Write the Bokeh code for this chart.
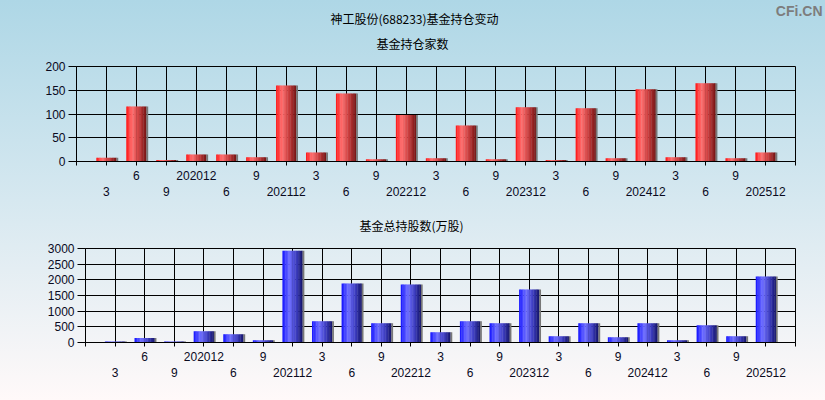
from bokeh.plotting import figure
from bokeh.models import Range1d, FixedTicker, LinearAxis, ColumnDataSource, Title
from bokeh.embed import file_html
from bokeh.resources import INLINE

# ---------------- data ----------------
periods = ["2020-03", "2020-06", "2020-09", "2020-12", "2021-06", "2021-09", "2021-12",
           "2022-03", "2022-06", "2022-09", "2022-12", "2023-03", "2023-06", "2023-09",
           "2023-12", "2024-03", "2024-06", "2024-09", "2024-12", "2025-03", "2025-06",
           "2025-09", "2025-12"]
tick_labels = ["3", "6", "9", "202012", "6", "9", "202112", "3", "6", "9", "202212",
               "3", "6", "9", "202312", "3", "6", "9", "202412", "3", "6", "9", "202512"]
fund_counts = [8, 116, 3, 15, 15, 9, 160, 19, 143, 5, 98, 7, 76, 5, 114, 3, 112, 7,
               152, 9, 165, 7, 19]
fund_shares = [30, 140, 35, 358, 263, 73, 2927, 675, 1880, 612, 1849, 327, 675, 612,
               1690, 200, 612, 168, 612, 73, 549, 200, 2103]
count_ticks = [0, 50, 100, 150, 200]
share_ticks = [0, 500, 1000, 1500, 2000, 2500, 3000]

main_title = "神工股份(688233)基金持仓变动"
title1 = "基金持仓家数"
title2 = "基金总持股数(万股)"
watermark = "CFi.CN"

CJK = "Noto Sans CJK SC"
NUM = "Liberation Sans"
W = 825


def lerp_color(stops, t):
    for (t0, c0), (t1, c1) in zip(stops[:-1], stops[1:]):
        if t0 <= t <= t1:
            f = (t - t0) / (t1 - t0)
            return "#%02x%02x%02x" % tuple(int(round(a + (b - a) * f)) for a, b in zip(c0, c1))
    return "#%02x%02x%02x" % stops[-1][1]


RED = [(0.0, (255, 20, 20)), (0.3, (255, 112, 112)), (0.65, (200, 60, 60)), (1.0, (115, 20, 20))]
BLUE = [(0.0, (20, 20, 255)), (0.35, (112, 112, 255)), (0.7, (60, 60, 190)), (1.0, (20, 20, 105))]


def make_chart(values, yticks, height, mb_left, mb_top, mb_bottom, stops, bar_w, bg):
    n = len(values)
    xs = list(range(1, n + 1))
    p = figure(width=W, height=height, output_backend="svg", toolbar_location=None,
               x_range=Range1d(0, n + 1), y_range=Range1d(yticks[0], yticks[-1]),
               min_border_left=mb_left, min_border_right=30,
               min_border_top=mb_top, min_border_bottom=mb_bottom,
               background_fill_alpha=0, border_fill_alpha=0,
               styles={"background": bg})
    p.outline_line_color = "black"
    p.outline_line_width = 1

    # gradient bars, sliced into vertical strips
    N = 14
    sx, sw, st, sc = [], [], [], []
    for x, v in zip(xs, values):
        for k in range(N):
            t = (k + 0.5) / N
            sx.append(x - bar_w / 2 + t * bar_w)
            sw.append(bar_w / N * 1.25)
            st.append(v)
            sc.append(lerp_color(stops, t))
    src = ColumnDataSource(dict(x=sx, w=sw, top=st, c=sc))
    p.vbar(x="x", width="w", top="top", bottom=0, source=src,
           fill_color="c", line_color=None)
    sh = ColumnDataSource(dict(x=[x + bar_w / 2 + 0.03 for x in xs], top=values))
    p.vbar(x="x", width=0.06, top="top", bottom=0, source=sh,
           fill_color="#777777", line_color=None)

    # grid
    for g in (p.xgrid, p.ygrid):
        g.grid_line_color = "black"
        g.grid_line_width = 1
        g.level = "underlay"

    # y axis
    ya = p.yaxis[0]
    ya.ticker = FixedTicker(ticks=yticks)
    ya.major_tick_in = 0
    ya.major_tick_out = 8
    ya.minor_tick_line_color = None
    ya.axis_line_color = "black"
    ya.major_tick_line_color = "black"
    ya.major_label_standoff = 3
    ya.major_label_text_font = NUM
    ya.major_label_text_font_size = "12px"
    ya.major_label_text_color = "#0a0a1e"

    # x axis row 1 (ticks at every slot, labels at even positions)
    xa = p.xaxis[0]
    xa.ticker = FixedTicker(ticks=list(range(0, n + 2)))
    xa.major_label_overrides = {i: (tick_labels[i - 1] if (1 <= i <= n and i % 2 == 0) else "")
                                for i in range(0, n + 2)}
    xa.major_tick_in = 0
    xa.major_tick_out = 4
    xa.minor_tick_line_color = None
    xa.axis_line_color = "black"
    xa.major_tick_line_color = "black"
    xa.major_label_standoff = 5
    xa.major_label_text_font = NUM
    xa.major_label_text_font_size = "12px"
    xa.major_label_text_color = "#0a0a1e"

    # x axis row 2 (labels at odd positions)
    odd = [i for i in xs if i % 2 == 1]
    xb = LinearAxis(ticker=FixedTicker(ticks=odd),
                    major_label_overrides={i: tick_labels[i - 1] for i in odd})
    xb.axis_line_color = None
    xb.major_tick_line_color = None
    xb.minor_tick_line_color = None
    xb.major_tick_in = 0
    xb.major_tick_out = 0
    xb.major_label_standoff = 4
    xb.major_label_text_font = NUM
    xb.major_label_text_font_size = "12px"
    xb.major_label_text_color = "#0a0a1e"
    p.add_layout(xb, "below")
    return p


p1 = make_chart(fund_counts, count_ticks, 200, 76, 66, 39, RED, 0.667,
                "linear-gradient(to bottom, #aed7e6, #d6e8f0)")
p2 = make_chart(fund_shares, share_ticks, 200, 85, 48, 58, BLUE, 0.676,
                "linear-gradient(to bottom, #d6e8f0, #fff9f9)")


def title(text, offset, standoff, align="left"):
    return Title(text=text, align=align, offset=offset, standoff=standoff,
                 text_font=CJK, text_font_size="12px", text_font_style="normal",
                 text_color="black")


p1.add_layout(title(title1, 300, 29), "above")
p1.add_layout(title(main_title, 254, -17), "above")
p1.add_layout(Title(text=watermark, align="right", offset=-27, standoff=-5,
                    text_font="Liberation Sans", text_font_size="14px",
                    text_font_style="bold", text_color="#7d7d7d"), "above")
p2.add_layout(title(title2, 274, 29), "above")

open("out.html", "w").write(file_html([p1, p2], INLINE))
